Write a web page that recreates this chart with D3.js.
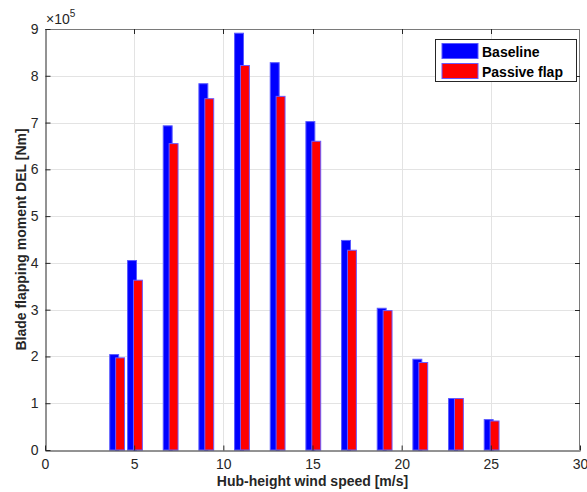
<!DOCTYPE html>
<html>
<head>
<meta charset="utf-8">
<script src="https://cdn.jsdelivr.net/npm/d3@7"></script>
<style>
  html, body { margin: 0; padding: 0; background: #fff; }
  svg { display: block; font-family: "Liberation Sans", Arial, Helvetica, sans-serif; }
</style>
</head>
<body>
<svg id="chart" width="587" height="492"></svg>
<script>
// Hub-height wind speeds [m/s]
const windSpeeds = [4, 5, 7, 9, 11, 13, 15, 17, 19, 21, 23, 25];
// Blade flapping moment DEL, in units of 1e5 Nm
const baseline   = [2.04, 4.05, 6.93, 7.83, 8.91, 8.28, 7.02, 4.48, 3.03, 1.94, 1.10, 0.65];
const passiveFlap = [1.97, 3.63, 6.55, 7.51, 8.22, 7.56, 6.60, 4.27, 2.98, 1.87, 1.10, 0.62];
const xTicks = [0, 5, 10, 15, 20, 25, 30];
const yTicks = [0, 1, 2, 3, 4, 5, 6, 7, 8, 9];
const seriesNames = ["Baseline", "Passive flap"];

const svg = d3.select("#chart");
const plotL = 45, plotR = 580, plotT = 29, plotB = 450;
const axisColor = "#262626";
const fs = 14;

const x = d3.scaleLinear().domain([0, 30]).range([plotL, plotR]);
const y = d3.scaleLinear().domain([0, 9]).range([plotB, plotT]);

// grid
const grid = svg.append("g").attr("stroke", "#e3e3e3").attr("stroke-width", 1);
grid.selectAll(".gx").data(xTicks.slice(1, -1)).enter().append("line")
  .attr("x1", d => Math.round(x(d)) + 0.5).attr("x2", d => Math.round(x(d)) + 0.5)
  .attr("y1", plotT).attr("y2", plotB);
grid.selectAll(".gy").data(yTicks.slice(1, -1)).enter().append("line")
  .attr("y1", d => Math.round(y(d)) + 0.5).attr("y2", d => Math.round(y(d)) + 0.5)
  .attr("x1", plotL).attr("x2", plotR);

// bars
const barW = 0.5;
const bars = svg.append("g");
bars.selectAll(".b").data(windSpeeds).enter().append("rect")
  .attr("x", (d) => x(d - 0.12 - barW / 2))
  .attr("width", x(barW) - x(0))
  .attr("y", (d, i) => y(baseline[i]))
  .attr("height", (d, i) => y(0) - y(baseline[i]))
  .attr("fill", "#0000ff").attr("stroke", "#5a5aff").attr("stroke-width", 1);
bars.selectAll(".p").data(windSpeeds).enter().append("rect")
  .attr("x", (d) => x(d + 0.21 - barW / 2))
  .attr("width", x(barW) - x(0))
  .attr("y", (d, i) => y(passiveFlap[i]))
  .attr("height", (d, i) => y(0) - y(passiveFlap[i]))
  .attr("fill", "#ff0000").attr("stroke", "#6a5aff").attr("stroke-width", 1);

// axes box
const box = svg.append("g").attr("fill", "none");
box.append("line").attr("x1", plotL).attr("x2", plotR).attr("y1", plotT + 0.5).attr("y2", plotT + 0.5)
  .attr("stroke", "#7a7a7a");
box.append("line").attr("x1", plotR - 0.5).attr("x2", plotR - 0.5).attr("y1", plotT).attr("y2", plotB)
  .attr("stroke", "#7a7a7a");

const xAxis = d3.axisBottom(x).tickValues(xTicks).tickSizeInner(-5).tickSizeOuter(0).tickPadding(9);
const gx = svg.append("g").attr("transform", `translate(0,${plotB + 0.5})`).call(xAxis);
gx.select(".domain").attr("stroke", axisColor);
gx.selectAll(".tick line").attr("stroke", axisColor);
gx.selectAll("text").attr("fill", axisColor).attr("font-size", fs);

const yAxis = d3.axisLeft(y).tickValues(yTicks).tickSizeInner(-5).tickSizeOuter(0).tickPadding(7);
const gy = svg.append("g").attr("transform", `translate(${plotL + 0.5},0)`).call(yAxis);
gy.select(".domain").attr("stroke", axisColor);
gy.selectAll(".tick line").attr("stroke", axisColor);
gy.selectAll("text").attr("fill", axisColor).attr("font-size", fs);

// top ticks
svg.append("g").selectAll("line").data(xTicks.slice(1, -1)).enter().append("line")
  .attr("x1", d => Math.round(x(d)) + 0.5).attr("x2", d => Math.round(x(d)) + 0.5)
  .attr("y1", plotT).attr("y2", plotT + 5).attr("stroke", axisColor);
// right ticks
svg.append("g").selectAll("line").data(yTicks.slice(1, -1)).enter().append("line")
  .attr("y1", d => Math.round(y(d)) + 0.5).attr("y2", d => Math.round(y(d)) + 0.5)
  .attr("x1", plotR - 5).attr("x2", plotR).attr("stroke", axisColor);

// exponent
const ex = svg.append("text").attr("x", plotL + 1).attr("y", 24).attr("fill", axisColor).attr("font-size", fs);
ex.append("tspan").text("×10");
ex.append("tspan").attr("font-size", 10).attr("dy", -7).text("5");

// axis labels
svg.append("text").attr("x", (plotL + plotR) / 2).attr("y", 486)
  .attr("text-anchor", "middle").attr("font-weight", "bold").attr("font-size", fs)
  .attr("fill", axisColor).text("Hub-height wind speed [m/s]");
svg.append("text").attr("transform", `translate(26,${(plotT + plotB) / 2}) rotate(-90)`)
  .attr("text-anchor", "middle").attr("font-weight", "bold").attr("font-size", fs)
  .attr("fill", axisColor).text("Blade flapping moment DEL [Nm]");

// legend
const lg = svg.append("g");
lg.append("rect").attr("x", 435.5).attr("y", 39.5).attr("width", 141).attr("height", 42)
  .attr("fill", "#fff").attr("stroke", axisColor).attr("stroke-width", 1);
const legendColors = [["#0000ff", "#5a5aff"], ["#ff0000", "#6a5aff"]];
seriesNames.forEach((name, i) => {
  lg.append("rect").attr("x", 442).attr("y", 43.5 + i * 20).attr("width", 36).attr("height", 15)
    .attr("fill", legendColors[i][0]).attr("stroke", legendColors[i][1]);
  lg.append("text").attr("x", 482).attr("y", 56.5 + i * 20).attr("font-weight", "bold")
    .attr("font-size", fs).attr("fill", "#000").text(name);
});
</script>
</body>
</html>
